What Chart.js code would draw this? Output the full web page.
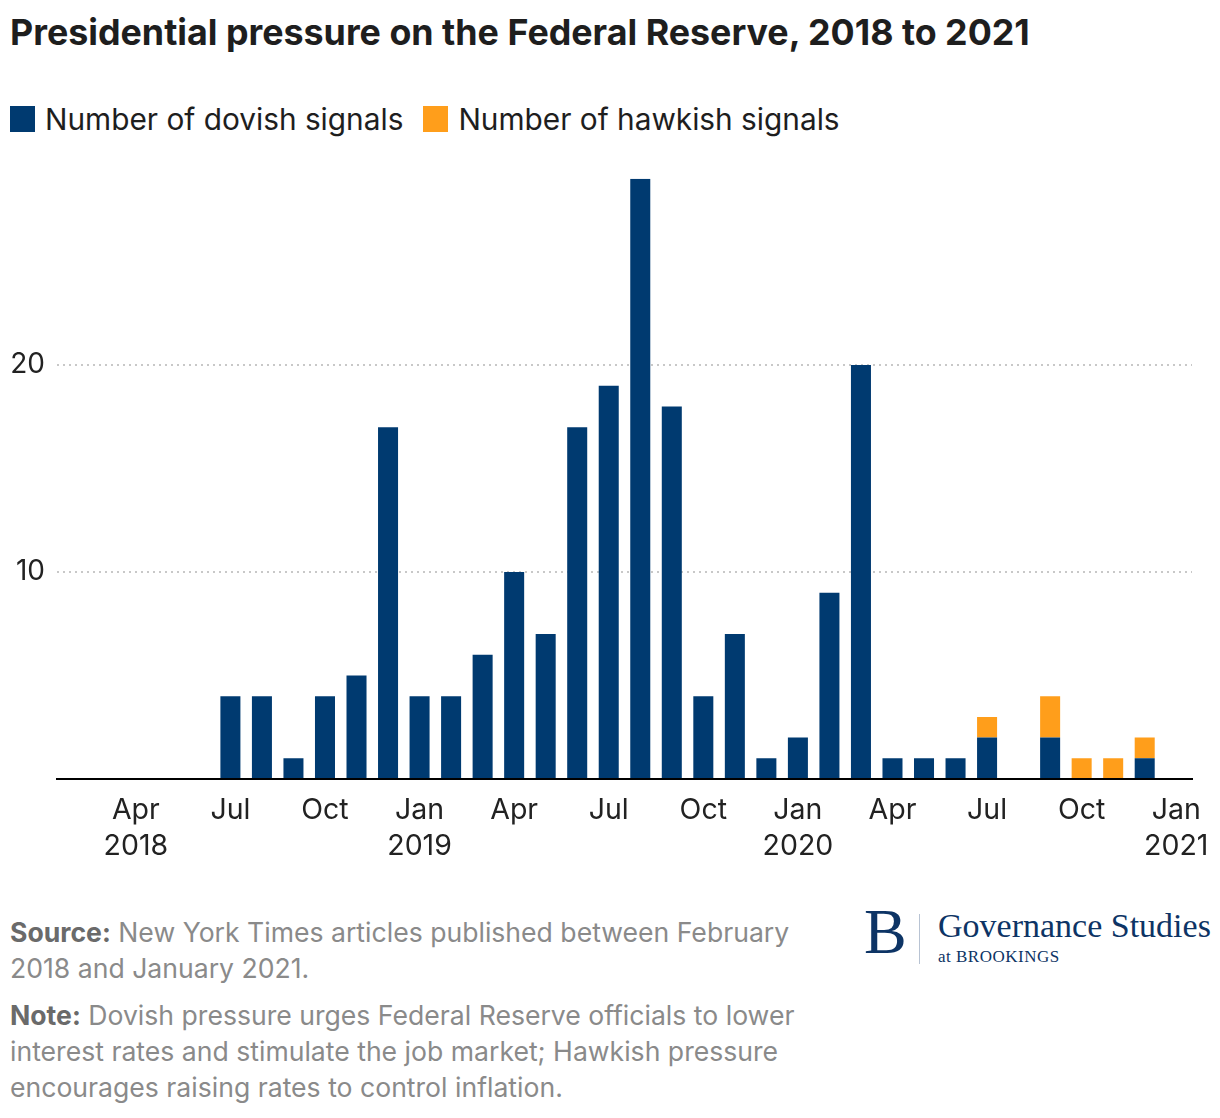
<!DOCTYPE html>
<html>
<head>
<meta charset="utf-8">
<script src="https://cdn.jsdelivr.net/npm/chart.js@4"></script>
<style>
  html, body { margin: 0; padding: 0; background: #fff; }
  body { width: 1220px; height: 1118px; position: relative; font-family: Inter, "Noto Sans", sans-serif; color: #1e1e1e; }
  #title { position: absolute; left: 10px; top: 10px; font-size: 35.8px; line-height: 44px; font-weight: 700; }
  #legend { position: absolute; left: 10px; top: 100px; display: flex; align-items: center; font-size: 29.8px; line-height: 38px; }
  #legend .sw { width: 25px; height: 26px; display: inline-block; margin-right: 10px; }
  #legend .item { display: flex; align-items: center; margin-right: 20px; }
  #chart-wrap { position: absolute; left: 0; top: 150px; width: 1220px; height: 719px; }
  #notes { position: absolute; left: 10px; top: 914px; width: 840px; font-size: 26.6px; line-height: 36px; color: #8a8a8a; }
  #notes b { color: #6a6a6a; font-weight: 700; }
  #notes p { margin: 0 0 11px 0; }
  #logo { position: absolute; left: 864px; top: 906px; width: 356px; height: 64px; color: #0d3465; font-family: "Liberation Serif", "DejaVu Serif", serif; }
  #logo .big { position: absolute; left: 0; top: -6px; font-size: 64px; line-height: 64px; }
  #logo .bar { position: absolute; left: 55px; top: 8px; width: 1px; height: 50px; background: #b8c3d3; }
  #logo .gs { position: absolute; left: 74px; top: 2px; font-size: 34px; line-height: 36px; white-space: nowrap; }
  #logo .at { position: absolute; left: 74px; top: 41px; font-size: 17px; line-height: 20px; letter-spacing: 0.5px; white-space: nowrap; }
</style>
</head>
<body>
<div id="title">Presidential pressure on the Federal Reserve, 2018 to 2021</div>
<div id="legend">
  <span class="item"><span class="sw" style="background:#003a70"></span>Number of dovish signals</span>
  <span class="item"><span class="sw" style="background:#ff9e1b"></span>Number of hawkish signals</span>
</div>
<div id="chart-wrap"><canvas id="chart"></canvas></div>
<div id="notes">
  <p><b>Source:</b> New York Times articles published between February<br>2018 and January 2021.</p>
  <p><b>Note:</b> Dovish pressure urges Federal Reserve officials to lower<br>interest rates and stimulate the job market; Hawkish pressure<br>encourages raising rates to control inflation.</p>
</div>
<div id="logo">
  <span class="big">B</span>
  <span class="bar"></span>
  <span class="gs">Governance Studies</span>
  <span class="at">at BROOKINGS</span>
</div>
<script>
"use strict";

const months = [
  "Feb 2018", "Mar 2018", "Apr 2018", "May 2018", "Jun 2018", "Jul 2018",
  "Aug 2018", "Sep 2018", "Oct 2018", "Nov 2018", "Dec 2018", "Jan 2019",
  "Feb 2019", "Mar 2019", "Apr 2019", "May 2019", "Jun 2019", "Jul 2019",
  "Aug 2019", "Sep 2019", "Oct 2019", "Nov 2019", "Dec 2019", "Jan 2020",
  "Feb 2020", "Mar 2020", "Apr 2020", "May 2020", "Jun 2020", "Jul 2020",
  "Aug 2020", "Sep 2020", "Oct 2020", "Nov 2020", "Dec 2020", "Jan 2021",
];

const dovish = [
  0, 0, 0, 0, 0, 4,
  4, 1, 4, 5, 17, 4,
  4, 6, 10, 7, 17, 19,
  29, 18, 4, 7, 1, 2,
  9, 20, 1, 1, 1, 2,
  0, 2, 0, 0, 1, 0,
];

const hawkish = [
  0, 0, 0, 0, 0, 0,
  0, 0, 0, 0, 0, 0,
  0, 0, 0, 0, 0, 0,
  0, 0, 0, 0, 0, 0,
  0, 0, 0, 0, 0, 1,
  0, 2, 1, 1, 1, 0,
];

const quarterMonths = ["Jan", "Apr", "Jul", "Oct"];
const yTicks = [10, 20];

const FONT = "Inter, 'Noto Sans', sans-serif";

function xTick(value, index) {
  const [m, y] = months[index].split(" ");
  if (!quarterMonths.includes(m)) return "";
  if (m === "Jan" || index === 2) return [m, y];
  return m;
}

new Chart(document.getElementById("chart"), {
  type: "bar",
  data: {
    labels: months,
    datasets: [
      { label: "Number of dovish signals", data: dovish, backgroundColor: "#003a70" },
      { label: "Number of hawkish signals", data: hawkish, backgroundColor: "#ff9e1b" },
    ],
  },
  options: {
    responsive: true,
    maintainAspectRatio: false,
    animation: false,
    layout: { padding: { top: 8, right: 28, left: 0, bottom: 0 } },
    datasets: { bar: { categoryPercentage: 1, barPercentage: 0.635 } },
    plugins: { legend: { display: false }, tooltip: { enabled: false } },
    scales: {
      x: {
        stacked: true,
        grid: { display: false },
        border: { display: true, color: "#000", width: 2 },
        ticks: {
          autoSkip: false,
          maxRotation: 0,
          padding: 5,
          color: "#222",
          font: { family: FONT, size: 28.5, lineHeight: 1.27 },
          callback: xTick,
        },
        afterFit: (scale) => { scale.height = 90; },
      },
      y: {
        stacked: true,
        min: 0,
        max: 29,
        border: { display: false, dash: [2, 4] },
        grid: {
          drawTicks: false,
          lineWidth: 2,
          color: (ctx) => (ctx.tick && yTicks.includes(ctx.tick.value) ? "#c8c8c8" : "transparent"),
        },
        ticks: {
          stepSize: 10,
          padding: 12,
          color: "#222",
          font: { family: FONT, size: 28 },
          callback: (v) => (yTicks.includes(v) ? String(v) : ""),
        },
        afterFit: (scale) => { scale.width = 57; },
      },
    },
  },
});
</script>
</body>
</html>
